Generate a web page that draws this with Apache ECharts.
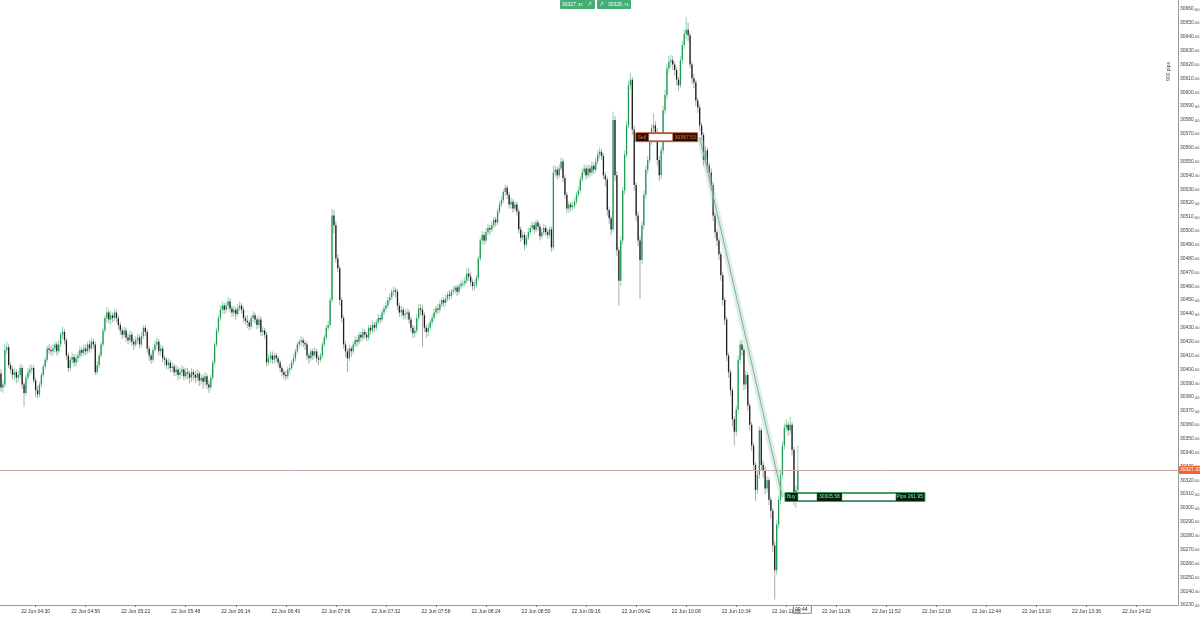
<!DOCTYPE html>
<html>
<head>
<meta charset="utf-8">
<script src="https://cdn.jsdelivr.net/npm/echarts@6/dist/echarts.min.js"></script>
<style>
  html, body { margin: 0; padding: 0; background: #fff; }
  #chart { width: 1200px; height: 618px; }
</style>
</head>
<body>
<div id="chart"></div>
<script>
// 1 minute bars, 22 Jun, first bar 04:12
var opens = [
  30397,30387,30389,30414,30416,30403,30400,30396,30398,30394,
  30396,30401,30389,30383,30394,30398,30400,30401,30392,30385,
  30382,30389,30396,30402,30407,30415,30414,30413,30415,30418,
  30413,30418,30425,30427,30421,30410,30401,30407,30409,30405,
  30408,30410,30414,30412,30415,30413,30418,30415,30420,30418,
  30398,30403,30410,30418,30428,30437,30441,30436,30439,30437,
  30441,30437,30432,30428,30425,30428,30423,30421,30425,30420,
  30418,30421,30423,30418,30424,30430,30427,30415,30410,30407,
  30414,30418,30420,30413,30415,30408,30407,30403,30405,30401,
  30402,30398,30400,30396,30398,30400,30395,30398,30397,30394,
  30398,30396,30394,30397,30392,30394,30391,30395,30389,30387,
  30394,30405,30418,30428,30437,30443,30446,30443,30446,30449,
  30444,30441,30443,30440,30444,30446,30443,30437,30435,30434,
  30431,30437,30439,30436,30432,30436,30427,30428,30425,30405,
  30408,30410,30407,30410,30408,30405,30401,30398,30396,30395,
  30400,30401,30405,30408,30413,30418,30420,30421,30419,30418,
  30410,30408,30413,30410,30413,30408,30407,30410,30418,30423,
  30430,30432,30450,30511,30504,30480,30473,30450,30437,30418,
  30413,30408,30415,30413,30418,30421,30420,30425,30423,30427,
  30425,30423,30430,30428,30432,30430,30434,30437,30436,30441,
  30444,30446,30450,30452,30456,30457,30456,30446,30441,30443,
  30439,30440,30441,30436,30430,30426,30428,30437,30444,30443,
  30439,30430,30427,30430,30434,30437,30441,30444,30443,30447,
  30450,30448,30451,30454,30453,30456,30457,30459,30456,30460,
  30462,30462,30464,30469,30467,30463,30460,30461,30466,30480,
  30493,30497,30493,30499,30502,30501,30504,30508,30506,30514,
  30519,30522,30528,30531,30526,30519,30521,30516,30519,30514,
  30501,30495,30497,30490,30495,30499,30502,30504,30501,30506,
  30503,30496,30499,30502,30499,30497,30501,30488,30542,30544,
  30540,30545,30550,30538,30526,30516,30519,30517,30518,30521,
  30526,30529,30537,30542,30545,30540,30545,30542,30547,30544,
  30550,30555,30557,30554,30540,30537,30515,30509,30501,30580,
  30540,30486,30464,30493,30529,30555,30576,30605,30609,30573,
  30533,30511,30493,30479,30504,30526,30544,30551,30565,30574,
  30576,30571,30551,30540,30558,30587,30598,30617,30622,30623,
  30620,30616,30609,30605,30623,30634,30642,30645,30641,30620,
  30610,30607,30594,30589,30576,30569,30551,30558,30547,30542,
  30533,30511,30499,30493,30483,30468,30450,30436,30410,30398,
  30385,30364,30355,30371,30407,30418,30414,30389,30396,30374,
  30360,30345,30331,30313,30324,30356,30331,30327,30314,30320,
  30306,30298,30273,30255,30288,30306,30324,30345,30358,30360,
  30356,30360,30342,30309,30313
];
var closes = [
  30387,30389,30414,30416,30403,30400,30396,30398,30394,30396,
  30401,30389,30383,30394,30398,30400,30401,30392,30385,30382,
  30389,30396,30402,30407,30415,30414,30413,30415,30418,30413,
  30418,30425,30427,30421,30410,30401,30407,30409,30405,30408,
  30410,30414,30412,30415,30413,30418,30415,30420,30418,30398,
  30403,30410,30418,30428,30437,30441,30436,30439,30437,30441,
  30437,30432,30428,30425,30428,30423,30421,30425,30420,30418,
  30421,30423,30418,30424,30430,30427,30415,30410,30407,30414,
  30418,30420,30413,30415,30408,30407,30403,30405,30401,30402,
  30398,30400,30396,30398,30400,30395,30398,30397,30394,30398,
  30396,30394,30397,30392,30394,30391,30395,30389,30387,30394,
  30405,30418,30428,30437,30443,30446,30443,30446,30449,30444,
  30441,30443,30440,30444,30446,30443,30437,30435,30434,30431,
  30437,30439,30436,30432,30436,30427,30428,30425,30405,30408,
  30410,30407,30410,30408,30405,30401,30398,30396,30395,30400,
  30401,30405,30408,30413,30418,30420,30421,30419,30418,30410,
  30408,30413,30410,30413,30408,30407,30410,30418,30423,30430,
  30432,30450,30511,30504,30480,30473,30450,30437,30418,30413,
  30408,30415,30413,30418,30421,30420,30425,30423,30427,30425,
  30423,30430,30428,30432,30430,30434,30437,30436,30441,30444,
  30446,30450,30452,30456,30457,30456,30446,30441,30443,30439,
  30440,30441,30436,30430,30426,30428,30437,30444,30443,30439,
  30430,30427,30430,30434,30437,30441,30444,30443,30447,30450,
  30448,30451,30454,30453,30456,30457,30459,30456,30460,30462,
  30462,30464,30469,30467,30463,30460,30461,30466,30480,30493,
  30497,30493,30499,30502,30501,30504,30508,30506,30514,30519,
  30522,30528,30531,30526,30519,30521,30516,30519,30514,30501,
  30495,30497,30490,30495,30499,30502,30504,30501,30506,30503,
  30496,30499,30502,30499,30497,30501,30488,30542,30544,30540,
  30545,30550,30538,30526,30516,30519,30517,30518,30521,30526,
  30529,30537,30542,30545,30540,30545,30542,30547,30544,30550,
  30555,30557,30554,30540,30537,30515,30509,30501,30580,30540,
  30486,30464,30493,30529,30555,30576,30605,30609,30573,30533,
  30511,30493,30479,30504,30526,30544,30551,30565,30574,30576,
  30571,30551,30540,30558,30587,30598,30617,30622,30623,30620,
  30616,30609,30605,30623,30634,30642,30645,30641,30620,30610,
  30607,30594,30589,30576,30569,30551,30558,30547,30542,30533,
  30511,30499,30493,30483,30468,30450,30436,30410,30398,30385,
  30364,30355,30371,30407,30418,30414,30389,30396,30374,30360,
  30345,30331,30313,30324,30356,30331,30327,30314,30320,30306,
  30298,30273,30255,30288,30306,30324,30345,30358,30360,30356,
  30360,30342,30309,30313,30327.33
];
var lows = [
  30384,30383,30387,30411,30401,30397,30393,30392,30390,30391,
  30394,30386,30373,30381,30392,30395,30397,30390,30380,30379,
  30380,30387,30394,30400,30405,30411,30410,30410,30412,30410,
  30411,30416,30422,30418,30407,30398,30399,30404,30402,30402,
  30405,30408,30409,30410,30410,30411,30412,30413,30415,30396,
  30396,30401,30408,30416,30426,30434,30433,30432,30434,30435,
  30434,30429,30425,30422,30423,30420,30418,30419,30417,30414,
  30416,30418,30415,30416,30422,30424,30412,30406,30404,30405,
  30412,30415,30410,30410,30405,30403,30400,30400,30398,30398,
  30395,30395,30392,30393,30395,30392,30393,30393,30390,30391,
  30392,30390,30391,30388,30389,30386,30388,30386,30383,30385,
  30392,30403,30416,30426,30435,30440,30440,30441,30443,30441,
  30438,30438,30436,30438,30442,30440,30434,30432,30430,30428,
  30429,30434,30433,30429,30430,30424,30424,30422,30402,30403,
  30405,30404,30404,30405,30402,30398,30395,30393,30392,30393,
  30397,30399,30403,30406,30411,30415,30417,30416,30414,30407,
  30404,30406,30407,30408,30405,30403,30405,30408,30416,30421,
  30428,30430,30448,30498,30477,30470,30446,30434,30415,30409,
  30398,30406,30409,30411,30416,30416,30418,30420,30421,30422,
  30420,30421,30425,30426,30427,30428,30432,30433,30434,30439,
  30442,30444,30448,30450,30453,30452,30443,30438,30438,30436,
  30436,30436,30433,30427,30423,30423,30426,30435,30439,30416,
  30427,30423,30424,30428,30432,30435,30439,30440,30441,30445,
  30445,30446,30449,30450,30451,30454,30455,30453,30454,30458,
  30459,30460,30462,30464,30460,30457,30457,30459,30464,30478,
  30490,30490,30491,30497,30497,30499,30502,30503,30504,30512,
  30517,30520,30525,30523,30516,30516,30513,30514,30511,30498,
  30492,30493,30486,30488,30493,30497,30500,30498,30499,30500,
  30493,30494,30497,30496,30494,30495,30485,30486,30539,30537,
  30538,30543,30535,30523,30513,30513,30514,30515,30516,30519,
  30524,30527,30535,30540,30537,30538,30539,30540,30541,30542,
  30548,30552,30551,30537,30532,30511,30505,30497,30499,30536,
  30482,30446,30460,30490,30526,30553,30574,30602,30569,30529,
  30507,30489,30451,30476,30501,30523,30541,30549,30562,30570,
  30567,30547,30536,30537,30555,30584,30595,30614,30618,30616,
  30612,30605,30601,30603,30620,30631,30638,30637,30617,30606,
  30603,30590,30585,30572,30565,30547,30549,30543,30538,30529,
  30507,30495,30489,30479,30464,30446,30432,30406,30394,30381,
  30359,30345,30352,30368,30404,30410,30385,30386,30370,30356,
  30341,30327,30305,30310,30321,30327,30322,30310,30311,30302,
  30292,30268,30234,30252,30285,30303,30321,30342,30355,30352,
  30353,30338,30302,30300,30310
];
var highs = [
  30400,30392,30418,30420,30418,30405,30402,30401,30400,30399,
  30404,30403,30391,30396,30401,30403,30404,30403,30394,30388,
  30391,30398,30404,30409,30417,30418,30417,30418,30420,30420,
  30421,30427,30431,30429,30423,30412,30409,30412,30411,30411,
  30413,30417,30416,30418,30418,30420,30421,30423,30422,30420,
  30406,30412,30420,30430,30439,30445,30443,30442,30441,30444,
  30443,30439,30434,30430,30431,30430,30426,30428,30427,30422,
  30424,30426,30425,30427,30432,30432,30429,30417,30412,30416,
  30421,30423,30422,30418,30417,30410,30409,30408,30407,30405,
  30404,30403,30402,30401,30403,30402,30401,30401,30399,30401,
  30400,30399,30400,30399,30397,30396,30398,30397,30392,30396,
  30407,30420,30430,30439,30446,30449,30448,30449,30452,30451,
  30446,30446,30445,30447,30449,30448,30445,30439,30439,30436,
  30439,30442,30441,30438,30439,30438,30431,30430,30427,30411,
  30413,30413,30412,30412,30410,30407,30403,30400,30399,30402,
  30404,30407,30411,30415,30420,30422,30424,30423,30421,30420,
  30412,30415,30415,30416,30415,30410,30412,30420,30425,30432,
  30435,30452,30516,30515,30507,30483,30475,30452,30439,30420,
  30415,30418,30417,30420,30424,30423,30427,30427,30430,30429,
  30427,30432,30432,30435,30434,30436,30440,30439,30443,30446,
  30449,30452,30455,30458,30460,30459,30458,30448,30446,30445,
  30443,30444,30443,30438,30432,30431,30440,30447,30447,30446,
  30441,30432,30433,30436,30440,30444,30446,30447,30450,30452,
  30452,30454,30456,30457,30458,30460,30461,30461,30462,30464,
  30465,30467,30473,30473,30470,30465,30464,30468,30482,30495,
  30500,30499,30502,30505,30504,30507,30510,30510,30516,30521,
  30525,30530,30533,30533,30528,30524,30523,30521,30521,30516,
  30503,30500,30499,30497,30502,30504,30507,30506,30508,30508,
  30505,30502,30505,30504,30501,30503,30503,30547,30547,30546,
  30548,30553,30552,30540,30528,30521,30521,30521,30524,30528,
  30532,30539,30545,30548,30547,30548,30547,30550,30549,30553,
  30558,30560,30559,30556,30542,30539,30517,30511,30586,30583,
  30543,30488,30496,30532,30558,30579,30608,30614,30611,30576,
  30535,30514,30496,30507,30529,30547,30554,30568,30577,30585,
  30579,30574,30554,30561,30590,30602,30620,30626,30627,30626,
  30622,30618,30611,30626,30637,30645,30654,30650,30643,30622,
  30613,30609,30596,30591,30578,30571,30561,30560,30549,30545,
  30535,30513,30501,30495,30485,30470,30452,30438,30412,30400,
  30387,30366,30374,30410,30421,30421,30416,30399,30398,30376,
  30362,30347,30333,30327,30359,30358,30334,30330,30323,30322,
  30308,30300,30276,30291,30309,30327,30348,30361,30364,30362,
  30366,30362,30344,30316,30345
];
var tickLabels = [
  '22 Jun 04:30', '22 Jun 04:56', '22 Jun 05:22', '22 Jun 05:48', '22 Jun 06:14',
  '22 Jun 06:40', '22 Jun 07:06', '22 Jun 07:32', '22 Jun 07:58', '22 Jun 08:24',
  '22 Jun 08:50', '22 Jun 09:16', '22 Jun 09:42', '22 Jun 10:08', '22 Jun 10:34',
  '22 Jun 11:00', '22 Jun 11:26', '22 Jun 11:52', '22 Jun 12:18', '22 Jun 12:44',
  '22 Jun 13:10', '22 Jun 13:36', '22 Jun 14:02'
];
var firstBarMinute = 4 * 60 + 12;
var barSlots = 612;

var bidPrice = 30327.33;
var askPrice = 30328.73;
// [bar index, price]
var tradeEntry = [363, 30567.53];
var tradeExit = [406, 30307.9];
var tradeExitLabel = '30305.58';
var tradePips = 'Pips 261.95';

if (opens.length !== closes.length || lows.length !== closes.length || highs.length !== closes.length) {
  throw new Error('length mismatch ' + [opens.length, closes.length, lows.length, highs.length].join(','));
}

function pad(n) { return n < 10 ? '0' + n : '' + n; }

var categories = [];
for (var k = 0; k < barSlots; k++) {
  var m = firstBarMinute + k;
  categories.push('22 Jun ' + pad(Math.floor(m / 60)) + ':' + pad(m % 60));
}
var tickSet = {};
tickLabels.forEach(function (t) { tickSet[t] = true; });

var candles = closes.map(function (c, i) {
  return [i, opens[i], c, lows[i], highs[i]];
});

var FONT = 'Liberation Sans';

function renderCandle(params, api) {
  var i = api.value(0);
  var o = api.value(1), c = api.value(2), lo = api.value(3), hi = api.value(4);
  var pHi = api.coord([i, hi]);
  var pLo = api.coord([i, lo]);
  var pO = api.coord([i, o]);
  var pC = api.coord([i, c]);
  var up = c >= o;
  var top = Math.min(pO[1], pC[1]);
  var h = Math.max(Math.abs(pO[1] - pC[1]), 1);
  return {
    type: 'group',
    children: [
      {
        type: 'line',
        shape: { x1: pHi[0], y1: pHi[1], x2: pLo[0], y2: pLo[1] },
        style: { stroke: up ? '#92d4ae' : '#ababab', lineWidth: 1 }
      },
      {
        type: 'rect',
        shape: { x: pO[0] - 0.65, y: top, width: 1.3, height: h },
        style: { fill: up ? '#1d9a56' : '#1e1e1e' }
      }
    ]
  };
}

function txt(text, x, y, color, align, size) {
  return {
    type: 'text',
    style: {
      text: text, x: x, y: y, fill: color,
      fontSize: size || 5, fontFamily: FONT,
      align: align || 'left', verticalAlign: 'middle'
    }
  };
}

function renderTrade(params, api) {
  var p0 = api.coord([api.value(0), api.value(1)]);
  var p1 = api.coord([api.value(2), api.value(3)]);
  var sx = p0[0] - 64, sy = p0[1];
  var bx = p1[0] + 2.5, by = p1[1];
  return {
    type: 'group',
    children: [
      { type: 'line', shape: { x1: p0[0], y1: p0[1], x2: p1[0], y2: p1[1] },
        style: { stroke: 'rgba(170,200,185,0.35)', lineWidth: 6 } },
      { type: 'line', shape: { x1: p0[0], y1: p0[1], x2: p1[0], y2: p1[1] },
        style: { stroke: '#6fbb92', lineWidth: 1 } },
      // sell label
      { type: 'rect', shape: { x: sx, y: sy - 4.5, width: 62, height: 9 },
        style: { fill: '#2a0c04', stroke: '#c8673f', lineWidth: 1 } },
      txt('Sell', sx + 2, sy, '#f07a45'),
      { type: 'rect', shape: { x: sx + 13, y: sy - 3.5, width: 24, height: 7 },
        style: { fill: '#ffffff', stroke: '#c8673f', lineWidth: 0.5 } },
      txt(tradeEntry[1].toFixed(2), sx + 60, sy, '#f07a45', 'right'),
      // buy label
      { type: 'rect', shape: { x: bx, y: by - 4.5, width: 140, height: 9 },
        style: { fill: '#04200f', stroke: '#3d9b65', lineWidth: 1 } },
      txt('Buy', bx + 2, by, '#8fe0b0'),
      { type: 'rect', shape: { x: bx + 13, y: by - 3.5, width: 19, height: 7 },
        style: { fill: '#ffffff', stroke: '#3d9b65', lineWidth: 0.5 } },
      txt(tradeExitLabel, bx + 34, by, '#8fe0b0'),
      { type: 'rect', shape: { x: bx + 57, y: by - 3.5, width: 54, height: 7 },
        style: { fill: '#ffffff', stroke: '#3d9b65', lineWidth: 0.5 } },
      txt(tradePips, bx + 138, by, '#8fe0b0', 'right')
    ]
  };
}

var chart = echarts.init(document.getElementById('chart'));

var option = {
  animation: false,
  backgroundColor: '#ffffff',
  textStyle: { fontFamily: FONT },
  grid: { left: 0, right: 22, top: 0, bottom: 13, outerBoundsMode: 'none', containLabel: false },
  xAxis: {
    type: 'category',
    data: categories,
    boundaryGap: true,
    axisLine: { lineStyle: { color: '#9a9a9a', width: 1 } },
    axisTick: {
      show: true, length: 2, alignWithLabel: true,
      interval: function (idx, val) { return !!tickSet[val]; },
      lineStyle: { color: '#777' }
    },
    axisLabel: {
      interval: function (idx, val) { return !!tickSet[val]; },
      fontSize: 5, color: '#333', margin: 4, fontFamily: FONT
    },
    splitLine: { show: false }
  },
  yAxis: {
    type: 'value',
    position: 'right',
    min: 30230,
    max: 30666.5,
    interval: 10,
    scale: true,
    axisLine: { show: true, lineStyle: { color: '#9a9a9a', width: 1 } },
    axisTick: { show: false },
    splitLine: { show: false },
    axisLabel: {
      showMaxLabel: false,
      margin: 2,
      color: '#444',
      formatter: function (v) {
        if (Math.abs(v % 10) > 0.001) return '';
        return '{a|' + v.toFixed(0) + '}{b|.00}';
      },
      rich: {
        a: { fontSize: 5, color: '#444', fontFamily: FONT },
        b: { fontSize: 4, color: '#444', fontFamily: FONT, verticalAlign: 'bottom' }
      }
    }
  },
  series: [
    {
      type: 'custom',
      name: 'candles',
      renderItem: renderCandle,
      data: candles,
      encode: { x: 0, y: [1, 2, 3, 4] },
      markLine: {
        silent: true,
        symbol: ['none', 'none'],
        animation: false,
        data: [
          {
            yAxis: askPrice,
            lineStyle: { opacity: 0 },
            label: {
              show: true, position: 'end', distance: 1,
              formatter: askPrice.toFixed(2),
              color: '#fff', backgroundColor: '#2f9a5c',
              fontSize: 5, padding: [2, 1, 1, 1], borderRadius: 2
            }
          },
          {
            yAxis: bidPrice,
            lineStyle: { color: '#c9aca2', width: 1, type: 'solid' },
            label: {
              show: true, position: 'end', distance: 1,
              formatter: bidPrice.toFixed(2),
              color: '#fff', backgroundColor: '#f2642d',
              fontSize: 5, padding: [2, 1, 1, 1], borderRadius: 1
            }
          }
        ]
      }
    },
    {
      type: 'custom',
      name: 'trade',
      renderItem: renderTrade,
      data: [[tradeEntry[0], tradeEntry[1], tradeExit[0], tradeExit[1]]],
      encode: { x: [0, 2], y: [1, 3] },
      z: 5
    }
  ],
  graphic: [
    { type: 'rect', left: 560, top: 0, shape: { width: 35, height: 9, r: 1 }, style: { fill: '#45ae74' } },
    { type: 'text', left: 562, top: 2, style: { text: '30327.', fill: '#fff', fontSize: 5, fontFamily: FONT } },
    { type: 'text', left: 578, top: 3, style: { text: '33', fill: '#fff', fontSize: 4, fontFamily: FONT } },
    { type: 'text', left: 587, top: 1.5, style: { text: '\u2197', fill: '#fff', fontSize: 6, fontFamily: 'DejaVu Sans' } },
    { type: 'rect', left: 597, top: 0, shape: { width: 34, height: 9, r: 1 }, style: { fill: '#45ae74' } },
    { type: 'text', left: 599, top: 1.5, style: { text: '\u2197', fill: '#fff', fontSize: 6, fontFamily: 'DejaVu Sans' } },
    { type: 'text', left: 608, top: 2, style: { text: '30328.', fill: '#fff', fontSize: 5, fontFamily: FONT } },
    { type: 'text', left: 624, top: 3, style: { text: '73', fill: '#fff', fontSize: 4, fontFamily: FONT } },
    { type: 'text', left: 1166, top: 62, rotation: Math.PI / 2, style: { text: '900 pips', fill: '#444', fontSize: 5, fontFamily: FONT } },
    { type: 'rect', left: 793, top: 605, shape: { width: 18, height: 8 }, style: { fill: '#fff', stroke: '#555', lineWidth: 0.7 } },
    { type: 'text', left: 795, top: 607, style: { text: '00:44', fill: '#222', fontSize: 5, fontFamily: FONT } }
  ]
};

chart.setOption(option);
window.addEventListener('resize', function () { chart.resize(); });
</script>
</body>
</html>
